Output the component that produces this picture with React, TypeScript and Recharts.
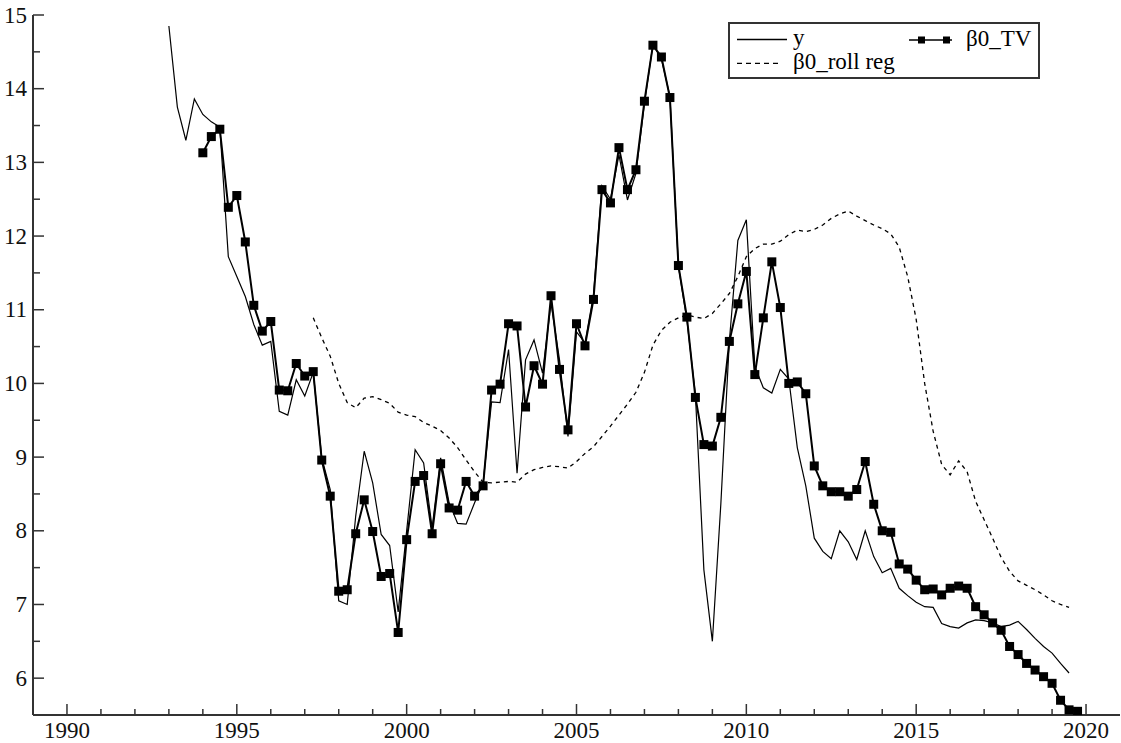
import React from 'react';
import { LineChart, Line, XAxis, YAxis, Legend } from 'recharts';

// quarterly series, first value of each array sits at its start quarter
const START_YEAR = 1993;
const Y_START = 0; // 1993Q1
const TV_START = 4; // 1994Q1
const ROLL_START = 17; // 1997Q2

const yValues = [
  14.85, 13.75, 13.3, 13.86,
  13.65, 13.55, 13.48, 11.72,
  11.45, 11.18, 10.8, 10.52,
  10.57, 9.62, 9.57, 10.05,
  9.83, 10.15, 8.99, 8.56,
  7.05, 7.0, 8.2, 9.08,
  8.65, 7.95, 7.8, 6.9,
  8.0, 9.1, 8.92, 8.04,
  8.99, 8.38, 8.1, 8.09,
  8.38, 8.65, 9.75, 9.74,
  10.46, 8.78, 10.32, 10.59,
  10.14, 11.09, 10.32, 9.28,
  10.7, 10.55, 11.2, 12.68,
  12.5, 13.1, 12.49, 12.85,
  13.8, 14.6, 14.4, 13.9,
  11.59, 10.86, 9.85, 7.47,
  6.5, 8.37, 10.58, 11.94,
  12.22, 10.23, 9.94, 9.87,
  10.19, 10.06, 9.13, 8.61,
  7.9, 7.72, 7.62, 8.0,
  7.85, 7.61, 8.0, 7.65,
  7.43, 7.49, 7.22, 7.12,
  7.03, 6.97, 6.96, 6.74,
  6.7, 6.68, 6.75, 6.79,
  6.78, 6.75, 6.7, 6.72,
  6.77, 6.66, 6.54, 6.43,
  6.34, 6.2, 6.07,
];

const tvValues = [
  13.13, 13.35, 13.45, 12.39,
  12.55, 11.92, 11.06, 10.71,
  10.84, 9.91, 9.9, 10.27,
  10.1, 10.16, 8.96, 8.47,
  7.18, 7.2, 7.96, 8.42,
  7.99, 7.38, 7.42, 6.62,
  7.88, 8.67, 8.75, 7.96,
  8.91, 8.31, 8.28, 8.67,
  8.47, 8.61, 9.91, 9.99,
  10.81, 10.78, 9.68, 10.24,
  9.99, 11.19, 10.19, 9.37,
  10.81, 10.51, 11.14, 12.63,
  12.45, 13.2, 12.63, 12.9,
  13.83, 14.59, 14.43, 13.88,
  11.6, 10.9, 9.81, 9.17,
  9.15, 9.54, 10.57, 11.08,
  11.52, 10.12, 10.89, 11.65,
  11.03, 10.0, 10.02, 9.86,
  8.88, 8.61, 8.53, 8.53,
  8.47, 8.56, 8.94, 8.36,
  8.0, 7.98, 7.55, 7.48,
  7.33, 7.2, 7.21, 7.13,
  7.22, 7.25, 7.22, 6.97,
  6.86, 6.75, 6.65, 6.43,
  6.32, 6.2, 6.11, 6.02,
  5.93, 5.7, 5.57, 5.55,
];

const rollValues = [
  10.89, 10.62, 10.37,
  10.0, 9.74, 9.67, 9.8,
  9.82, 9.78, 9.73, 9.61,
  9.57, 9.55, 9.47, 9.42,
  9.36, 9.26, 9.13, 8.96,
  8.8, 8.66, 8.65, 8.66,
  8.67, 8.66, 8.77, 8.83,
  8.86, 8.88, 8.87, 8.85,
  8.94, 9.05, 9.14, 9.28,
  9.42, 9.57, 9.72, 9.88,
  10.15, 10.52, 10.72, 10.83,
  10.89, 10.93, 10.9, 10.88,
  10.95, 11.08, 11.22, 11.45,
  11.72, 11.83, 11.89, 11.89,
  11.93, 12.02, 12.08, 12.06,
  12.09, 12.15, 12.24, 12.3,
  12.34, 12.27, 12.21, 12.15,
  12.1, 12.03, 11.85, 11.45,
  10.87, 10.0, 9.35, 8.9,
  8.76, 8.95, 8.8, 8.4,
  8.15, 7.9, 7.64, 7.45,
  7.32, 7.26, 7.2, 7.13,
  7.05, 7.0, 6.96,
];

const xTicks = [
  1990, 1991, 1992, 1993, 1994, 1995, 1996, 1997, 1998, 1999, 2000,
  2001, 2002, 2003, 2004, 2005, 2006, 2007, 2008, 2009, 2010,
  2011, 2012, 2013, 2014, 2015, 2016, 2017, 2018, 2019, 2020,
];
const yTicks = [6, 6.5, 7, 7.5, 8, 8.5, 9, 9.5, 10, 10.5, 11, 11.5, 12, 12.5, 13, 13.5, 14, 14.5, 15];

const N_QUARTERS = TV_START + tvValues.length;

const data = Array.from({ length: N_QUARTERS }, (_, i) => {
  const pick = (arr: number[], start: number) =>
    i >= start && i - start < arr.length ? arr[i - start] : null;
  return {
    t: START_YEAR + i / 4,
    y: pick(yValues, Y_START),
    tv: pick(tvValues, TV_START),
    roll: pick(rollValues, ROLL_START),
  };
});

const FONT = '"Liberation Serif", "Times New Roman", "DejaVu Serif", serif';
const AXIS = '#333';
const textStyle = { fontFamily: FONT, fontSize: 23 };

const XTick = (props: any) => {
  const { x, y, payload } = props;
  const major = payload.value % 5 === 0;
  return (
    <g>
      <line x1={x} x2={x} y1={y} y2={y - (major ? 11 : 6)} stroke={AXIS} strokeWidth={1.5} />
      {major && (
        <text x={x} y={y + 23} textAnchor="middle" style={textStyle} fill="#111">
          {payload.value}
        </text>
      )}
    </g>
  );
};

const YTick = (props: any) => {
  const { x, y, payload } = props;
  const major = Number.isInteger(payload.value);
  return (
    <g>
      <line x1={x} x2={x + (major ? 11 : 7)} y1={y} y2={y} stroke={AXIS} strokeWidth={1.5} />
      {major && (
        <text x={x - 6} y={y + 7.5} textAnchor="end" style={textStyle} fill="#111">
          {payload.value}
        </text>
      )}
    </g>
  );
};

const SquareDot = (props: any) => {
  const { cx, cy, index } = props;
  if (cx == null || cy == null) return <g key={index} />;
  return <rect key={index} x={cx - 4.5} y={cy - 4.5} width={9} height={9} fill="#000" />;
};

const LegendBox = () => (
  <svg width={312} height={57} style={{ display: 'block', overflow: 'visible' }}>
    <rect x={1} y={1} width={310} height={55} fill="#fff" stroke={AXIS} strokeWidth={2} />
    <line x1={9} x2={59} y1={17.5} y2={17.5} stroke="#000" strokeWidth={1.3} />
    <text x={65} y={23} style={textStyle} fill="#000">y</text>
    <line x1={181} x2={224} y1={18} y2={18} stroke="#000" strokeWidth={1.5} />
    <rect x={190} y={14.5} width={7} height={7} fill="#000" />
    <rect x={215} y={14.5} width={7} height={7} fill="#000" />
    <text x={238} y={23.5} style={textStyle} fill="#000">β0_TV</text>
    <line x1={9} x2={53} y1={41.3} y2={41.3} stroke="#000" strokeWidth={1.3} strokeDasharray="5 4" />
    <text x={65} y={46.5} style={textStyle} fill="#000">β0_roll reg</text>
  </svg>
);

const App: React.FC = () => {
  return (
    <div style={{ position: 'absolute', left: 0, top: 0, width: 1121, height: 743, background: '#fff', fontFamily: FONT }}>
      <LineChart width={1121} height={743} data={data} margin={{ top: 15, right: 1, left: 0, bottom: 0 }}>
        <XAxis
          dataKey="t"
          type="number"
          domain={[1989, 2021]}
          ticks={xTicks}
          interval={0}
          tick={<XTick />}
          tickLine={false}
          tickSize={0}
          tickMargin={0}
          height={28}
          axisLine={{ stroke: AXIS, strokeWidth: 2 }}
          allowDataOverflow
        />
        <XAxis
          xAxisId="top"
          orientation="top"
          dataKey="t"
          type="number"
          domain={[1989, 2021]}
          height={0}
          tick={false}
          tickLine={false}
          axisLine={{ stroke: AXIS, strokeWidth: 2 }}
        />
        <YAxis
          type="number"
          domain={[5.5, 15]}
          ticks={yTicks}
          interval={0}
          tick={<YTick />}
          tickLine={false}
          tickSize={0}
          tickMargin={0}
          width={33}
          axisLine={{ stroke: AXIS, strokeWidth: 2 }}
          allowDataOverflow
        />
        <YAxis
          yAxisId="right"
          orientation="right"
          type="number"
          domain={[5.5, 15]}
          width={0}
          tick={false}
          tickLine={false}
          axisLine={{ stroke: AXIS, strokeWidth: 2 }}
        />
        <Legend
          content={<LegendBox />}
          layout="vertical"
          verticalAlign="middle"
          align="center"
          wrapperStyle={{ left: 728, top: 22, width: 312, height: 57 }}
        />
        <Line
          dataKey="roll"
          name="β0_roll reg"
          type="linear"
          stroke="#000"
          strokeWidth={1.3}
          strokeDasharray="4 4"
          dot={false}
          isAnimationActive={false}
        />
        <Line
          dataKey="y"
          name="y"
          type="linear"
          stroke="#000"
          strokeWidth={1.2}
          dot={false}
          isAnimationActive={false}
        />
        <Line
          dataKey="tv"
          name="β0_TV"
          type="linear"
          stroke="#000"
          strokeWidth={2}
          dot={<SquareDot />}
          isAnimationActive={false}
        />
      </LineChart>
    </div>
  );
};

export default App;
